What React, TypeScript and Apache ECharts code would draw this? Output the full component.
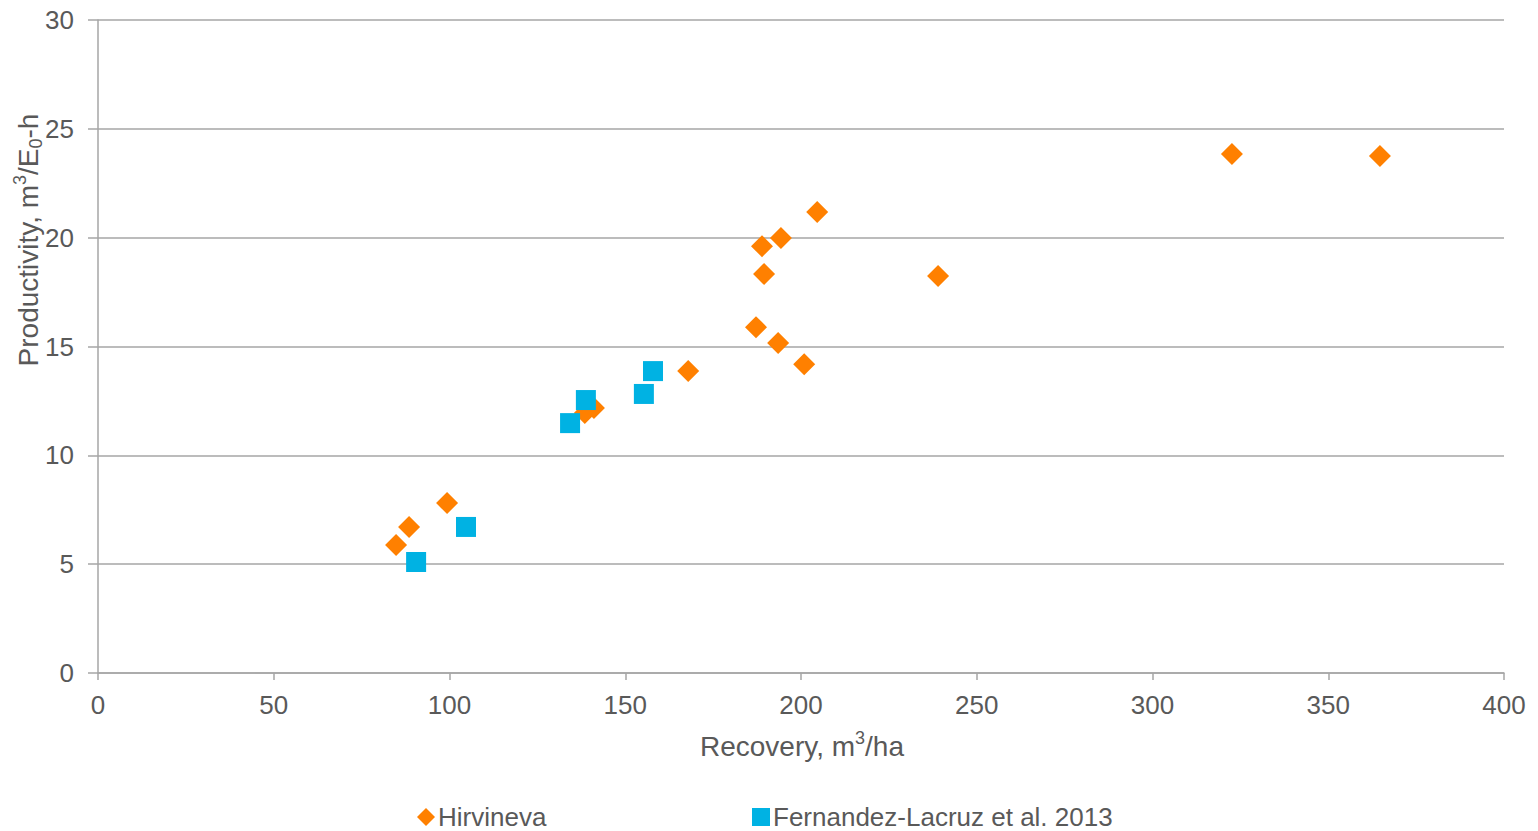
import React, { useEffect, useRef } from "react";
import * as echarts from "echarts";

// Recovery (m³/ha) vs productivity (m³/E0-h) observations
const hirvinevaRecovery = [84.8, 88.5, 99.3, 138.5, 141.1, 167.9, 187.2, 193.5, 200.9, 188.9, 194.3, 189.5, 204.6, 239.0, 322.6, 364.7];
const hirvinevaProductivity = [5.88, 6.71, 7.81, 11.94, 12.17, 13.87, 15.89, 15.16, 14.19, 19.61, 19.98, 18.33, 21.18, 18.24, 23.84, 23.75];

const fernandezRecovery = [90.5, 104.7, 134.3, 138.8, 155.3, 157.9];
const fernandezProductivity = [5.1, 6.71, 11.48, 12.54, 12.82, 13.87];

const seriesNames = ["Hirvineva", "Fernandez-Lacruz et al. 2013"];
const xTicks = { min: 0, max: 400, interval: 50 };
const yTicks = { min: 0, max: 30, interval: 5 };

const pairs = (xs: number[], ys: number[]) => xs.map((x, i) => [x, ys[i]]);

const FONT = "'Liberation Sans', Arial, 'DejaVu Sans', sans-serif";
const TEXT = "#595959";
const LINE = "#a6a6a6";

// rich-text styles for axis titles with super/subscripts
const titleRich = {
  n: { fontSize: 28, lineHeight: 34, fontFamily: FONT, fill: TEXT, color: TEXT },
  sup: { fontSize: 18, lineHeight: 18, verticalAlign: "top", fontFamily: FONT, fill: TEXT, color: TEXT },
  sub: { fontSize: 18, lineHeight: 18, verticalAlign: "bottom", fontFamily: FONT, fill: TEXT, color: TEXT },
};

const legendText = { fontSize: 26, lineHeight: 26, color: TEXT, fontFamily: FONT, padding: [0, 0, 0, -2] };

export default function App() {
  const ref = useRef<HTMLDivElement>(null);

  useEffect(() => {
    if (!ref.current) return;
    const chart = echarts.init(ref.current, null, { renderer: "svg" });
    chart.setOption({
      animation: false,
      backgroundColor: "#ffffff",
      textStyle: { fontFamily: FONT },
      grid: { left: 98, right: 34, top: 20, bottom: 158, containLabel: false },
      xAxis: {
        type: "value",
        min: xTicks.min,
        max: xTicks.max,
        interval: xTicks.interval,
        axisLine: { show: true, lineStyle: { color: LINE, width: 1.5 } },
        axisTick: { show: true, length: 7, lineStyle: { color: LINE, width: 1.5 } },
        axisLabel: { fontSize: 26, color: TEXT, margin: 19, fontFamily: FONT },
        splitLine: { show: false },
      },
      yAxis: {
        type: "value",
        min: yTicks.min,
        max: yTicks.max,
        interval: yTicks.interval,
        axisLine: { show: true, lineStyle: { color: LINE, width: 1.5 } },
        axisTick: { show: true, length: 10, lineStyle: { color: LINE, width: 1.5 } },
        axisLabel: { fontSize: 26, color: TEXT, margin: 24, fontFamily: FONT },
        splitLine: { show: true, lineStyle: { color: LINE, width: 1.5 } },
      },
      graphic: [
        {
          type: "text",
          x: 802,
          y: 746,
          style: {
            text: "{n|Recovery, m}{sup|3}{n|/ha}",
            rich: titleRich,
            align: "center",
            verticalAlign: "middle",
            fill: TEXT,
            font: `28px ${FONT}`,
          },
        },
        {
          type: "text",
          x: 28,
          y: 240,
          rotation: Math.PI / 2,
          style: {
            text: "{n|Productivity, m}{sup|3}{n|/E}{sub|0}{n|-h}",
            rich: titleRich,
            align: "center",
            verticalAlign: "middle",
            fill: TEXT,
            font: `28px ${FONT}`,
          },
        },
      ],
      legend: [
        {
          data: [seriesNames[0]],
          left: 417,
          top: 804,
          padding: 0,
          itemWidth: 18,
          itemHeight: 18,
          itemGap: 0,
          textStyle: legendText,
        },
        {
          data: [seriesNames[1]],
          left: 752,
          top: 804,
          padding: 0,
          itemWidth: 18,
          itemHeight: 18,
          itemGap: 0,
          textStyle: legendText,
        },
      ],
      series: [
        {
          name: seriesNames[0],
          type: "scatter",
          symbol: "diamond",
          symbolSize: 22,
          itemStyle: { color: "#ff8000", opacity: 1 },
          data: pairs(hirvinevaRecovery, hirvinevaProductivity),
        },
        {
          name: seriesNames[1],
          type: "scatter",
          symbol: "rect",
          symbolSize: 20,
          itemStyle: { color: "#00b2e3", opacity: 1 },
          data: pairs(fernandezRecovery, fernandezProductivity),
        },
      ],
    });
    return () => chart.dispose();
  }, []);

  return <div ref={ref} style={{ width: 1538, height: 831, position: "absolute", left: 0, top: 0 }} />;
}
